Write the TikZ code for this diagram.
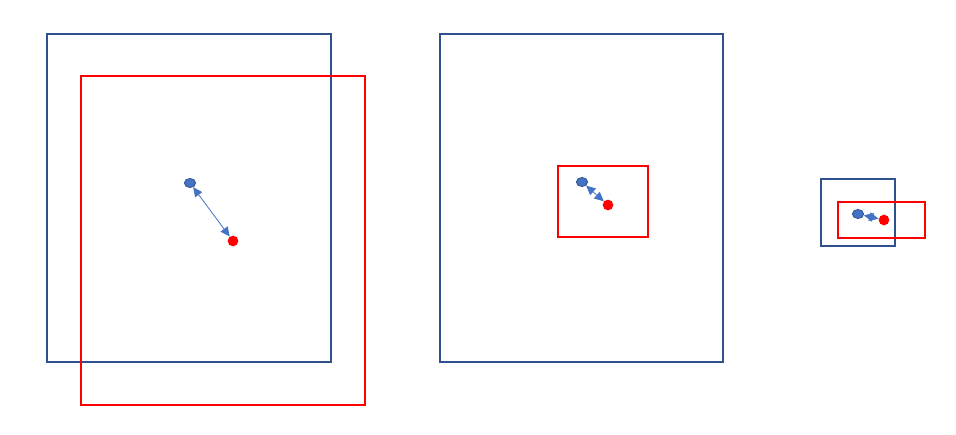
\documentclass[tikz,border=0pt]{standalone}
\usetikzlibrary{arrows.meta,shapes.geometric}
\definecolor{dblue}{HTML}{2F528F}
\definecolor{mblue}{HTML}{4472C4}
\tikzset{
  bluebox/.style={draw=dblue,line width=1.2pt},
  redbox/.style={draw=red,line width=0.9pt},
  bdot/.style={ellipse,draw=dblue,fill=mblue,line width=0.6pt,minimum width=8.5pt,minimum height=6.8pt,inner sep=0pt},
  rdot/.style={circle,fill=red,minimum size=8pt,inner sep=0pt},
  link/.style={draw=mblue,line width=0.6pt,{Triangle[width=6.5pt,length=7pt]}-{Triangle[width=6.5pt,length=7pt]}},
}
\begin{document}
\begin{tikzpicture}[x=0.75pt,y=-0.75pt]
\useasboundingbox[fill=white] (0,0) rectangle (956,435);
% panel 1
\draw[bluebox] (47,34) rectangle (331,362);
\draw[redbox] (81,76) rectangle (365,405);
\node[bdot] (b1) at (190,183) {};
\node[rdot] (r1) at (233,241) {};
\draw[link] (b1) -- (r1);
% panel 2
\draw[bluebox] (440,34) rectangle (723,362);
\draw[redbox] (558,166) rectangle (648,237);
\node[bdot] (b2) at (582,182) {};
\node[rdot] (r2) at (608,205) {};
\draw[link] (b2) -- (r2);
% panel 3
\draw[bluebox] (821,179) rectangle (895,246);
\draw[redbox] (838,202) rectangle (925,238);
\node[bdot] (b3) at (858,214) {};
\node[rdot] (r3) at (884,220) {};
\draw[link] (b3) -- (r3);
\end{tikzpicture}
\end{document}
